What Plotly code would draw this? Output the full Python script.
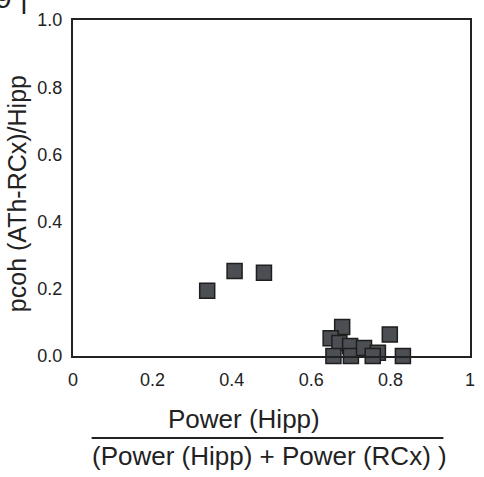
import plotly.graph_objects as go

# Data
x_ratio = [0.338, 0.407, 0.481, 0.678, 0.649, 0.671, 0.698, 0.656, 0.700,
           0.733, 0.768, 0.755, 0.798, 0.831]
y_pcoh = [0.194, 0.253, 0.248, 0.086, 0.053, 0.039, 0.030, 0.0, 0.0,
          0.024, 0.010, 0.0, 0.064, 0.0]

x_ticks = [0, 0.2, 0.4, 0.6, 0.8, 1.0]
x_ticktext = ["0", "0.2", "0.4", "0.6", "0.8", "1"]
y_ticks = [0, 0.2, 0.4, 0.6, 0.8, 1.0]
y_ticktext = ["0.0", "0.2", "0.4", "0.6", "0.8", "1.0"]

FONT = "Liberation Sans, Arial, sans-serif"
INK = "#222222"

fig = go.Figure()
fig.add_trace(go.Scatter(
    x=x_ratio, y=y_pcoh, mode="markers", cliponaxis=False,
    marker=dict(symbol="square", size=15, color="#4b4e53",
                line=dict(color="#1e1e1e", width=1.5)),
    showlegend=False,
))

axis_common = dict(showline=True, linewidth=2, linecolor=INK, mirror=True,
                   showgrid=False, zeroline=False, ticks="",
                   tickfont=dict(family=FONT, size=18, color=INK))

fig.update_layout(
    width=484, height=477,
    margin=dict(l=73, r=9, t=20, b=121),
    paper_bgcolor="white", plot_bgcolor="white",
    xaxis=dict(range=[0, 1], tickvals=x_ticks, ticktext=x_ticktext,
               ticklabelstandoff=6, **axis_common),
    yaxis=dict(range=[0, 1], tickvals=y_ticks, ticktext=y_ticktext,
               ticklabelstandoff=5, **axis_common),
    font=dict(family=FONT, color=INK),
)

# y axis title
fig.add_annotation(text="pcoh (ATh-RCx)/Hipp", xref="paper", yref="paper",
                   x=-0.142, y=0.4836, textangle=-90, showarrow=False,
                   xanchor="center", yanchor="middle",
                   font=dict(family=FONT, size=25, color=INK))
# x axis title as a fraction
fig.add_annotation(text="Power (Hipp)", xref="paper", yref="paper",
                   x=0.430, y=-0.1875, showarrow=False,
                   xanchor="center", yanchor="middle",
                   font=dict(family=FONT, size=26, color=INK))
fig.add_shape(type="line", xref="paper", yref="paper",
              x0=0.047, x1=0.933, y0=-0.244, y1=-0.244,
              line=dict(color=INK, width=2))
fig.add_annotation(text="(Power (Hipp) + Power (RCx) )", xref="paper", yref="paper",
                   x=0.496, y=-0.2976, showarrow=False,
                   xanchor="center", yanchor="middle",
                   font=dict(family=FONT, size=26, color=INK))

# cropped panel label at the top-left corner
fig.add_annotation(text="9 |", xref="paper", yref="paper",
                   x=-0.2015, y=1.012, showarrow=False,
                   xanchor="left", yanchor="bottom",
                   font=dict(family=FONT, size=30, color=INK))

fig.write_html("out.html", config={"displayModeBar": False},
               post_script="document.body.style.margin='0';")
